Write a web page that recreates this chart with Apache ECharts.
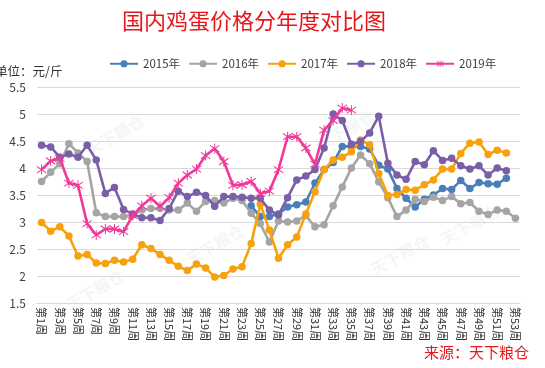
<!DOCTYPE html>
<html>
<head>
<meta charset="utf-8">
<script src="https://cdn.jsdelivr.net/npm/echarts@6/dist/echarts.min.js"></script>
<style>
html,body{margin:0;padding:0;background:#fff;}
#chart{width:545px;height:368px;}
</style>
</head>
<body>
<div id="chart"></div>
<script>
const weeks = [];
for (let i = 1; i <= 53; i++) weeks.push('第' + i + '周');

const seriesNames = ['2015年', '2016年', '2017年', '2018年', '2019年'];

const y2015 = [null,null,null,null,null,null,null,null,null,null,null,null,null,null,null,null,null,null,null,null,null,null,null,
  3.30,3.10,3.10,3.15,3.28,3.32,3.37,3.72,3.97,4.10,4.40,4.40,4.40,4.35,4.05,3.98,3.62,3.44,3.28,3.42,3.50,3.62,3.60,3.77,3.62,3.73,3.71,3.70,3.81,null];

const y2016 = [3.75,3.92,4.08,4.45,4.28,4.12,3.17,3.10,3.10,3.10,3.13,3.22,3.25,3.25,3.22,3.22,3.35,3.20,3.38,3.40,3.35,3.44,3.40,3.16,2.97,2.63,3.02,3.00,3.02,3.12,2.91,2.95,3.30,3.65,4.00,4.24,4.08,3.74,3.45,3.10,3.22,3.42,3.38,3.46,3.40,3.47,3.34,3.36,3.20,3.14,3.22,3.20,3.07];

const y2017 = [2.99,2.83,2.91,2.74,2.37,2.40,2.24,2.23,2.29,2.26,2.31,2.58,2.51,2.40,2.29,2.18,2.10,2.22,2.15,1.98,2.01,2.13,2.17,2.60,3.33,2.85,2.33,2.58,2.72,3.15,3.56,3.97,4.15,4.20,4.30,4.52,4.43,3.90,3.49,3.51,3.60,3.59,3.69,3.78,3.98,3.98,4.27,4.46,4.48,4.25,4.33,4.28,null];

const y2018 = [4.42,4.39,4.20,4.26,4.20,4.42,4.15,3.53,3.64,3.23,3.15,3.08,3.08,3.03,3.25,3.57,3.47,3.55,3.49,3.29,3.47,3.47,3.46,3.44,3.44,3.22,3.13,3.45,3.78,3.85,3.97,4.37,5.00,4.88,4.44,4.49,4.65,4.96,4.09,3.87,3.79,4.12,4.06,4.32,4.14,4.18,4.04,3.98,4.04,3.87,4.00,3.95,null];

const y2019 = [3.97,4.13,4.18,3.72,3.68,2.97,2.76,2.87,2.87,2.82,3.12,3.30,3.44,3.29,3.45,3.72,3.87,3.98,4.23,4.36,4.12,3.68,3.69,3.75,3.53,3.57,3.97,4.58,4.58,4.37,4.07,4.70,4.88,5.11,5.07,
  null,null,null,null,null,null,null,null,null,null,null,null,null,null,null,null,null,null];

const yTicks = ['1.5','2','2.5','3','3.5','4','4.5','5','5.5'];

const colors = ['#4a7ebb', '#a5a5a5', '#f7a10c', '#7a5ea8', '#f0399a'];
const starPath = 'path://M9,0 L11,0 L11,20 L9,20 Z M0,4.3 L1.3,2.7 L20,15.7 L18.7,17.3 Z M0,15.7 L18.7,2.7 L20,4.3 L1.3,17.3 Z';

const font = '"Noto Sans CJK SC", "Noto Sans", sans-serif';
const allData = [y2015, y2016, y2017, y2018, y2019];

const series = allData.map((d, i) => ({
  name: seriesNames[i],
  type: 'line',
  data: d,
  connectNulls: false,
  symbol: i === 4 ? starPath : 'circle',
  symbolSize: i === 4 ? 10 : 7.5,
  showSymbol: true,
  showAllSymbol: true,
  lineStyle: { width: 2.6, color: colors[i] },
  itemStyle: { color: colors[i] },
  z: 2 + i,
  animation: false
}));

const wmPos = [[115, 135], [345, 130], [215, 245], [470, 225], [95, 290], [400, 255]];
const watermarks = wmPos.map(p => ({
  type: 'text',
  x: p[0], y: p[1],
  rotation: Math.PI / 6,
  style: {
    text: '天下粮仓',
    font: 'bold 16px ' + font,
    fill: 'rgba(150,190,170,0.12)',
    textAlign: 'center',
    textVerticalAlign: 'middle'
  },
  z: 0, silent: true
}));

const chart = echarts.init(document.getElementById('chart'));
chart.setOption({
  animation: false,
  color: colors,
  title: {
    text: '国内鸡蛋价格分年度对比图',
    left: 117, top: 5,
    textStyle: { color: '#e8161a', fontSize: 22, fontWeight: 'normal', fontFamily: font }
  },
  legend: {
    data: seriesNames,
    left: 104, top: 53,
    itemWidth: 28, itemHeight: 9, itemGap: 8,
    textStyle: { fontSize: 11.5, color: '#404040', fontFamily: font }
  },
  grid: { left: 37, right: 25, top: 87, bottom: 65, containLabel: false },
  xAxis: {
    type: 'category',
    data: weeks,
    boundaryGap: true,
    axisLine: { show: true, lineStyle: { color: '#d9d9d9', width: 1 } },
    axisTick: { show: false },
    axisLabel: { interval: 1, rotate: -90, fontSize: 11, color: '#333', fontFamily: font, margin: 4 }
  },
  yAxis: {
    type: 'value',
    min: 1.5, max: 5.5, interval: 0.5,
    axisLine: { show: false },
    axisTick: { show: false },
    splitLine: { lineStyle: { color: '#d9d9d9', width: 1 } },
    axisLabel: {
      fontSize: 12, color: '#404040', fontFamily: font, margin: 11,
      formatter: v => { const s = String(+v.toFixed(1)); return yTicks.indexOf(s) >= 0 ? s : ''; }
    }
  },
  graphic: watermarks.concat([
    {
      type: 'text', left: -5, top: 65,
      style: { text: '单位：元/斤', font: '12.5px ' + font, fill: '#333' }
    },
    {
      type: 'text', left: 424, top: 345,
      style: { text: '来源：天下粮仓', font: '15px ' + font, fill: '#e8161a' }
    }
  ]),
  series: series
});
</script>
</body>
</html>
